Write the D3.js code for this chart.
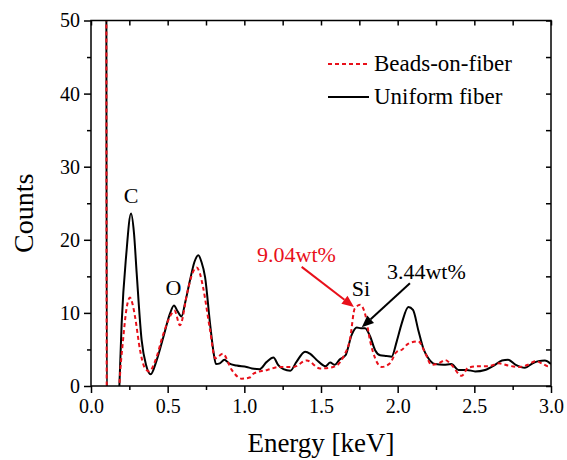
<!DOCTYPE html>
<html>
<head>
<meta charset="utf-8">
<script src="https://cdn.jsdelivr.net/npm/d3@7"></script>
</head>
<body style="margin:0; background:#fff">
<svg width="567" height="460"></svg>
<script>
// EDS spectra
const uniformEnergy = [0.100, 0.103, 0.178, 0.185, 0.20, 0.23, 0.261, 0.28, 0.298, 0.33, 0.36, 0.389, 0.428, 0.472, 0.515, 0.541, 0.565, 0.59, 0.615, 0.646, 0.675, 0.70, 0.72, 0.744, 0.776, 0.80, 0.815, 0.84, 0.87, 0.90, 0.95, 1.015, 1.05, 1.10, 1.146, 1.19, 1.22, 1.255, 1.30, 1.34, 1.396, 1.43, 1.47, 1.53, 1.56, 1.59, 1.62, 1.66, 1.70, 1.733, 1.76, 1.787, 1.82, 1.853, 1.886, 1.93, 1.96, 1.994, 2.027, 2.07, 2.10, 2.135, 2.168, 2.20, 2.244, 2.30, 2.35, 2.396, 2.45, 2.505, 2.57, 2.635, 2.68, 2.72, 2.77, 2.83, 2.88, 2.918, 2.96, 3.0];
const uniformCounts = [60, -3, -3, 0, 8.6, 18, 23.6, 21, 15.4, 6.3, 2.8, 1.6, 3.5, 6.7, 9.9, 11.0, 10.2, 9.5, 11.5, 14.5, 17.0, 17.9, 17.0, 14.9, 8.6, 4.5, 3.0, 3.1, 3.6, 3.1, 2.8, 2.6, 2.4, 2.3, 3.3, 3.9, 2.9, 2.3, 2.1, 3.3, 4.7, 4.4, 3.6, 2.7, 3.2, 2.9, 3.6, 4.2, 7.0, 8.0, 7.9, 7.9, 6.8, 4.9, 4.2, 4.1, 4.0, 6.1, 8.6, 10.8, 10.4, 7.6, 5.1, 3.8, 3.0, 2.9, 3.0, 2.2, 2.2, 2.0, 2.2, 2.9, 3.5, 3.6, 2.9, 2.5, 3.1, 3.4, 3.5, 3.0];

const beadsEnergy = [0.100, 0.103, 0.178, 0.185, 0.21, 0.235, 0.254, 0.27, 0.287, 0.32, 0.35, 0.38, 0.42, 0.47, 0.526, 0.545, 0.58, 0.63, 0.665, 0.689, 0.71, 0.73, 0.776, 0.81, 0.86, 0.918, 0.983, 1.04, 1.06, 1.15, 1.23, 1.32, 1.407, 1.494, 1.58, 1.646, 1.69, 1.72, 1.755, 1.787, 1.82, 1.853, 1.896, 1.95, 1.99, 2.03, 2.07, 2.135, 2.18, 2.22, 2.266, 2.31, 2.35, 2.418, 2.46, 2.53, 2.59, 2.66, 2.72, 2.79, 2.85, 2.9, 2.94, 2.98, 3.0];
const beadsCounts = [60, -3, -3, 0, 6.5, 11, 12.1, 11.3, 9.5, 4.9, 2.5, 2.0, 3.5, 7.0, 9.9, 10.3, 8.3, 13.0, 15.6, 16.2, 15.4, 13.6, 7.7, 3.8, 4.4, 2.2, 1.0, 1.2, 1.7, 2.2, 2.6, 2.6, 3.5, 2.4, 2.6, 4.0, 6.5, 10.6, 11.1, 9.9, 6.2, 3.8, 2.6, 3.1, 4.6, 5.0, 5.8, 6.1, 4.5, 2.9, 3.1, 3.55, 2.9, 1.4, 2.5, 2.7, 2.7, 3.1, 2.8, 2.6, 2.9, 3.4, 3.1, 2.7, 2.8];

const xTicks = [0, 0.5, 1.0, 1.5, 2.0, 2.5, 3.0];
const xMinor = [0.25, 0.75, 1.25, 1.75, 2.25, 2.75];
const yTicks = [0, 10, 20, 30, 40, 50];
const yMinor = [5, 15, 25, 35, 45];

const seriesNames = ["Beads-on-fiber", "Uniform fiber"];
const peakLabels = [
  { text: "C", e: 0.261, c: 25.0 },
  { text: "O", e: 0.538, c: 12.45 },
  { text: "Si", e: 1.761, c: 12.3 }
];
// wt% callouts: text anchor + arrow from/to (data units)
const callouts = [
  { text: "9.04wt%", color: "#e8101a", e: 1.083, c: 16.96, from: [1.374, 16.3], to: [1.715, 10.8] },
  { text: "3.44wt%", color: "#000", e: 1.93, c: 14.64, from: [2.08, 14.05], to: [1.766, 8.03] }
];

const FONT = "Liberation Serif";

const svg = d3.select("svg").attr("font-family", FONT);
const margin = { top: 20.5, right: 16, bottom: 74, left: 91 };
const W = 567, H = 460;

const x = d3.scaleLinear().domain([0, 3]).range([margin.left, W - margin.right]);
const y = d3.scaleLinear().domain([0, 50]).range([H - margin.bottom, margin.top]);

svg.append("clipPath").attr("id", "plot")
  .append("rect")
  .attr("x", x(0)).attr("y", y(50))
  .attr("width", x(3) - x(0)).attr("height", y(0) - y(50));

const line = d3.line()
  .x(d => x(d[0]))
  .y(d => y(d[1]))
  .curve(d3.curveMonotoneX);

const uniform = uniformEnergy.map((e, i) => [e, uniformCounts[i]]);
const beads = beadsEnergy.map((e, i) => [e, beadsCounts[i]]);

const g = svg.append("g").attr("clip-path", "url(#plot)");

g.append("path")
  .datum(uniform)
  .attr("d", line)
  .attr("fill", "none")
  .attr("stroke", "#000")
  .attr("stroke-width", 2);

g.append("path")
  .datum(beads)
  .attr("d", line)
  .attr("fill", "none")
  .attr("stroke", "#e8101a")
  .attr("stroke-width", 2)
  .attr("stroke-dasharray", "4,3");

// axes
const fmt = d3.format(".1f");
const axisStyle = sel => {
  sel.attr("font-family", FONT).attr("font-size", 20);
  sel.select(".domain").remove();
  sel.selectAll("line").attr("stroke", "#000").attr("stroke-width", 1.5);
  sel.selectAll("text").style("font-family", FONT).style("font-size", "20px").attr("fill", "#000");
};

svg.append("g")
  .attr("transform", `translate(0,${y(0)})`)
  .call(d3.axisBottom(x).tickValues(xTicks).tickFormat(fmt).tickSize(7).tickPadding(6))
  .call(axisStyle);
svg.append("g")
  .attr("transform", `translate(0,${y(0)})`)
  .call(d3.axisBottom(x).tickValues(xMinor).tickFormat("").tickSize(4))
  .call(axisStyle);

svg.append("g")
  .attr("transform", `translate(${x(0)},0)`)
  .call(d3.axisLeft(y).tickValues(yTicks).tickSize(7).tickPadding(4))
  .call(axisStyle);
svg.append("g")
  .attr("transform", `translate(${x(0)},0)`)
  .call(d3.axisLeft(y).tickValues(yMinor).tickFormat("").tickSize(4))
  .call(axisStyle);

// mirror ticks, inward on top and right
svg.append("g")
  .attr("transform", `translate(0,${y(50)})`)
  .call(d3.axisBottom(x).tickValues(xTicks.concat(xMinor)).tickFormat("").tickSize(5))
  .call(axisStyle);
svg.append("g")
  .attr("transform", `translate(${x(3)},0)`)
  .call(d3.axisLeft(y).tickValues(yTicks.concat(yMinor)).tickFormat("").tickSize(5))
  .call(axisStyle);

svg.append("rect")
  .attr("x", x(0)).attr("y", y(50))
  .attr("width", x(3) - x(0)).attr("height", y(0) - y(50))
  .attr("fill", "none")
  .attr("stroke", "#000")
  .attr("stroke-width", 1.5);

// axis titles
svg.append("text")
  .attr("x", (x(0) + x(3)) / 2)
  .attr("y", 452)
  .attr("text-anchor", "middle")
  .style("font-family", FONT)
  .style("font-size", "27px")
  .text("Energy [keV]");

svg.append("text")
  .attr("transform", `translate(33,${(y(0) + y(50)) / 2 + 10}) rotate(-90)`)
  .attr("text-anchor", "middle")
  .style("font-family", FONT)
  .style("font-size", "28px")
  .text("Counts");

// peak labels
svg.selectAll(".peak")
  .data(peakLabels)
  .enter()
  .append("text")
  .attr("x", d => x(d.e))
  .attr("y", d => y(d.c))
  .attr("text-anchor", "middle")
  .style("font-family", FONT)
  .style("font-size", "22px")
  .text(d => d.text);

// callouts
callouts.forEach(d => {
  svg.append("text")
    .attr("x", x(d.e))
    .attr("y", y(d.c))
    .style("font-family", FONT)
    .style("font-size", "22px")
    .attr("fill", d.color)
    .text(d.text);

  const x1 = x(d.from[0]), y1 = y(d.from[1]);
  const x2 = x(d.to[0]), y2 = y(d.to[1]);
  const ang = Math.atan2(y2 - y1, x2 - x1);
  const len = 12, half = 5;
  const bx = x2 - len * Math.cos(ang), by = y2 - len * Math.sin(ang);

  svg.append("line")
    .attr("x1", x1).attr("y1", y1)
    .attr("x2", bx).attr("y2", by)
    .attr("stroke", d.color)
    .attr("stroke-width", 2);

  svg.append("path")
    .attr("d", `M${x2},${y2}L${bx - half * Math.sin(ang)},${by + half * Math.cos(ang)}L${bx + half * Math.sin(ang)},${by - half * Math.cos(ang)}Z`)
    .attr("fill", d.color);
});

// legend
const legend = svg.append("g");
const legendY = [64, 97];
seriesNames.forEach((name, i) => {
  legend.append("line")
    .attr("x1", 328).attr("x2", 369)
    .attr("y1", legendY[i]).attr("y2", legendY[i])
    .attr("stroke", i === 0 ? "#e8101a" : "#000")
    .attr("stroke-width", 2)
    .attr("stroke-dasharray", i === 0 ? "4,3" : null);
  legend.append("text")
    .attr("x", 374)
    .attr("y", legendY[i] + 7)
    .style("font-family", FONT)
    .style("font-size", "23px")
    .text(name);
});
</script>
</body>
</html>
